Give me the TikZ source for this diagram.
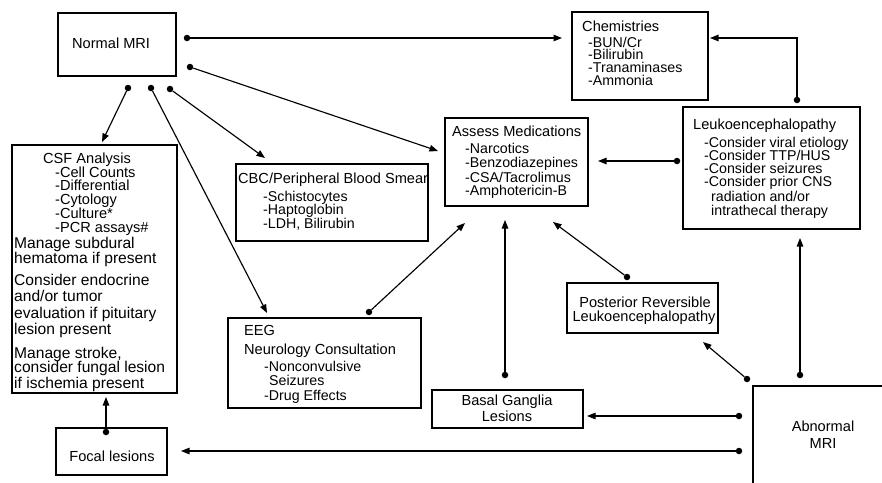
\documentclass[tikz,border=0pt]{standalone}
\usepackage{fontspec}
\setmainfont{Liberation Sans}
\usetikzlibrary{arrows.meta,fit}
\begin{document}
\begin{tikzpicture}[x=1pt,y=-1pt,
 box/.style={draw, line width=1.4pt, inner sep=0pt},
 tx/.style={anchor=base west, inner sep=0pt, font=\fontsize{14.6}{15}\selectfont},
 it/.style={anchor=base west, inner sep=0pt, font=\fontsize{14.2}{15}\selectfont},
 txc/.style={anchor=base, inner sep=0pt, font=\fontsize{14.6}{15}\selectfont},
 tb/.style={anchor=base west, inner sep=0pt, font=\fontsize{15.6}{16}\selectfont},
 ti/.style={anchor=base west, inner sep=0pt, font=\fontsize{14.6}{16}\selectfont},
 dot/.style={circle, fill, inner sep=0pt, minimum size=6.5pt},
 con/.style={line width=1.15pt, -{Triangle[length=8.5pt,width=6.5pt]}}]
\useasboundingbox[fill=white] (0,0) rectangle (882,482);
\clip (0,0) rectangle (882,482);

% boxes
\node[box, fit={(58,13) (176,76)}] (nm) {};
\node[box, fit={(12,145) (177,393)}] (csf) {};
\node[box, fit={(56,428) (167,475)}] (focal) {};
\node[box, fit={(236,164) (428,241)}] (cbc) {};
\node[box, fit={(572,12) (708,100)}] (chem) {};
\node[box, fit={(445,118) (588,206)}] (assess) {};
\node[box, fit={(683,107) (860,229)}] (leuko) {};
\node[box, fit={(228,318) (421,408)}] (eeg) {};
\node[box, fit={(432,390) (583,428)}] (basal) {};
\node[box, fit={(567,283) (718,333)}] (prl) {};
\node[box, fit={(753,386) (900,500)}] (abn) {};

% texts
\node[tx] (t-nm) at (72,48.5) {Normal MRI};

\node[tx] (t-csf0) at (43,163) {CSF Analysis};
\node[ti] (t-csf1) at (55,177) {-Cell Counts};
\node[ti] (t-csf2) at (55,190.5) {-Differential};
\node[ti] (t-csf3) at (55,204) {-Cytology};
\node[ti] (t-csf4) at (55,218) {-Culture*};
\node[ti] (t-csf5) at (55,232) {-PCR assays\#};
\node[tb] (t-csf6) at (14,248.5) {Manage subdural};
\node[tb] (t-csf7) at (14,263.5) {hematoma if present};
\node[tb] (t-csf8) at (14,285) {Consider endocrine};
\node[tb] (t-csf9) at (14,301) {and/or tumor};
\node[tb] (t-csf10) at (14,318) {evaluation if pituitary};
\node[tb] (t-csf11) at (14,334) {lesion present};
\node[tb] (t-csf12) at (14,358) {Manage stroke,};
\node[tb] (t-csf13) at (14,372.5) {consider fungal lesion};
\node[tb] (t-csf14) at (14,388) {if ischemia present};

\node[txc] (t-focal) at (112,461.5) {Focal lesions};

\node[tx] (t-cbc0) at (238,183.5) {CBC/Peripheral Blood Smear};
\node[it] (t-cbc1) at (263,201.5) {-Schistocytes};
\node[it] (t-cbc2) at (263,214.5) {-Haptoglobin};
\node[it] (t-cbc3) at (263,228.5) {-LDH, Bilirubin};

\node[tx] (t-chem0) at (582,31.5) {Chemistries};
\node[it] (t-chem1) at (588,47) {-BUN/Cr};
\node[it] (t-chem2) at (588,59.5) {-Bilirubin};
\node[it] (t-chem3) at (588,72.5) {-Tranaminases};
\node[it] (t-chem4) at (588,85.5) {-Ammonia};

\node[tx] (t-as0) at (452,136.5) {Assess Medications};
\node[it] (t-as1) at (465,153.5) {-Narcotics};
\node[it] (t-as2) at (465,167) {-Benzodiazepines};
\node[it] (t-as3) at (465,182.5) {-CSA/Tacrolimus};
\node[it] (t-as4) at (465,195.5) {-Amphotericin-B};

\node[tx] (t-lk0) at (693,129.5) {Leukoencephalopathy};
\node[it] (t-lk1) at (704,147.5) {-Consider viral etiology};
\node[it] (t-lk2) at (704,160.5) {-Consider TTP/HUS};
\node[it] (t-lk3) at (704,173.5) {-Consider seizures};
\node[it] (t-lk4) at (704,186.5) {-Consider prior CNS};
\node[it] (t-lk5) at (711,201) {radiation and/or};
\node[it] (t-lk6) at (711,215.5) {intrathecal therapy};

\node[tx] (t-eeg0) at (244,335.5) {EEG};
\node[tx] (t-eeg1) at (244,354.5) {Neurology Consultation};
\node[it] (t-eeg2) at (264,371.5) {-Nonconvulsive};
\node[it] (t-eeg3) at (269,385) {Seizures};
\node[it] (t-eeg4) at (264,400.5) {-Drug Effects};

\node[txc] (t-bg0) at (507,405.5) {Basal Ganglia};
\node[txc] (t-bg1) at (507,421.5) {Lesions};

\node[txc] (t-prl0) at (645,307.5) {Posterior Reversible};
\node[txc] (t-prl1) at (644,321.5) {Leukoencephalopathy};

\node[txc] (t-abn0) at (823,431.5) {Abnormal};
\node[txc] (t-abn1) at (823,448.5) {MRI};

% dots (connector origins)
\node[dot] (d1) at (187,38) {};
\node[dot] (d2) at (190,67) {};
\node[dot] (d3) at (128,88) {};
\node[dot] (d4) at (151,88) {};
\node[dot] (d5) at (170,89) {};
\node[dot] (d6) at (797,100) {};
\node[dot] (d7) at (677,161) {};
\node[dot] (d8) at (369,312) {};
\node[dot] (d9) at (505,375) {};
\node[dot] (d10) at (627,277) {};
\node[dot] (d11) at (800,375) {};
\node[dot] (d12) at (747,379) {};
\node[dot] (d13) at (739,416) {};
\node[dot] (d14) at (739,451) {};
\node[dot] (d15) at (106,432) {};

% arrow tips
\coordinate (e1) at (562,38);
\coordinate (e2) at (438,151);
\coordinate (e3) at (102,142);
\coordinate (e4) at (267,313);
\coordinate (e5) at (265,158);
\coordinate (e6) at (710,38);
\coordinate (e7) at (598,161);
\coordinate (e8) at (465,223);
\coordinate (e9) at (505,220);
\coordinate (e10) at (553,222);
\coordinate (e11) at (800,238);
\coordinate (e12) at (703,342);
\coordinate (e13) at (587,416);
\coordinate (e14) at (181,451);
\coordinate (e15) at (106,397);

% connectors
\draw[con] (d1) -- (e1);
\draw[con] (d2) -- (e2);
\draw[con] (d3) -- (e3);
\draw[con] (d4) -- (e4);
\draw[con] (d5) -- (e5);
\draw[con] (d6) |- (e6);
\draw[con] (d7) -- (e7);
\draw[con] (d8) -- (e8);
\draw[con] (d9) -- (e9);
\draw[con] (d10) -- (e10);
\draw[con] (d11) -- (e11);
\draw[con] (d12) -- (e12);
\draw[con] (d13) -- (e13);
\draw[con] (d14) -- (e14);
\draw[con] (d15) -- (e15);
\end{tikzpicture}
\end{document}
